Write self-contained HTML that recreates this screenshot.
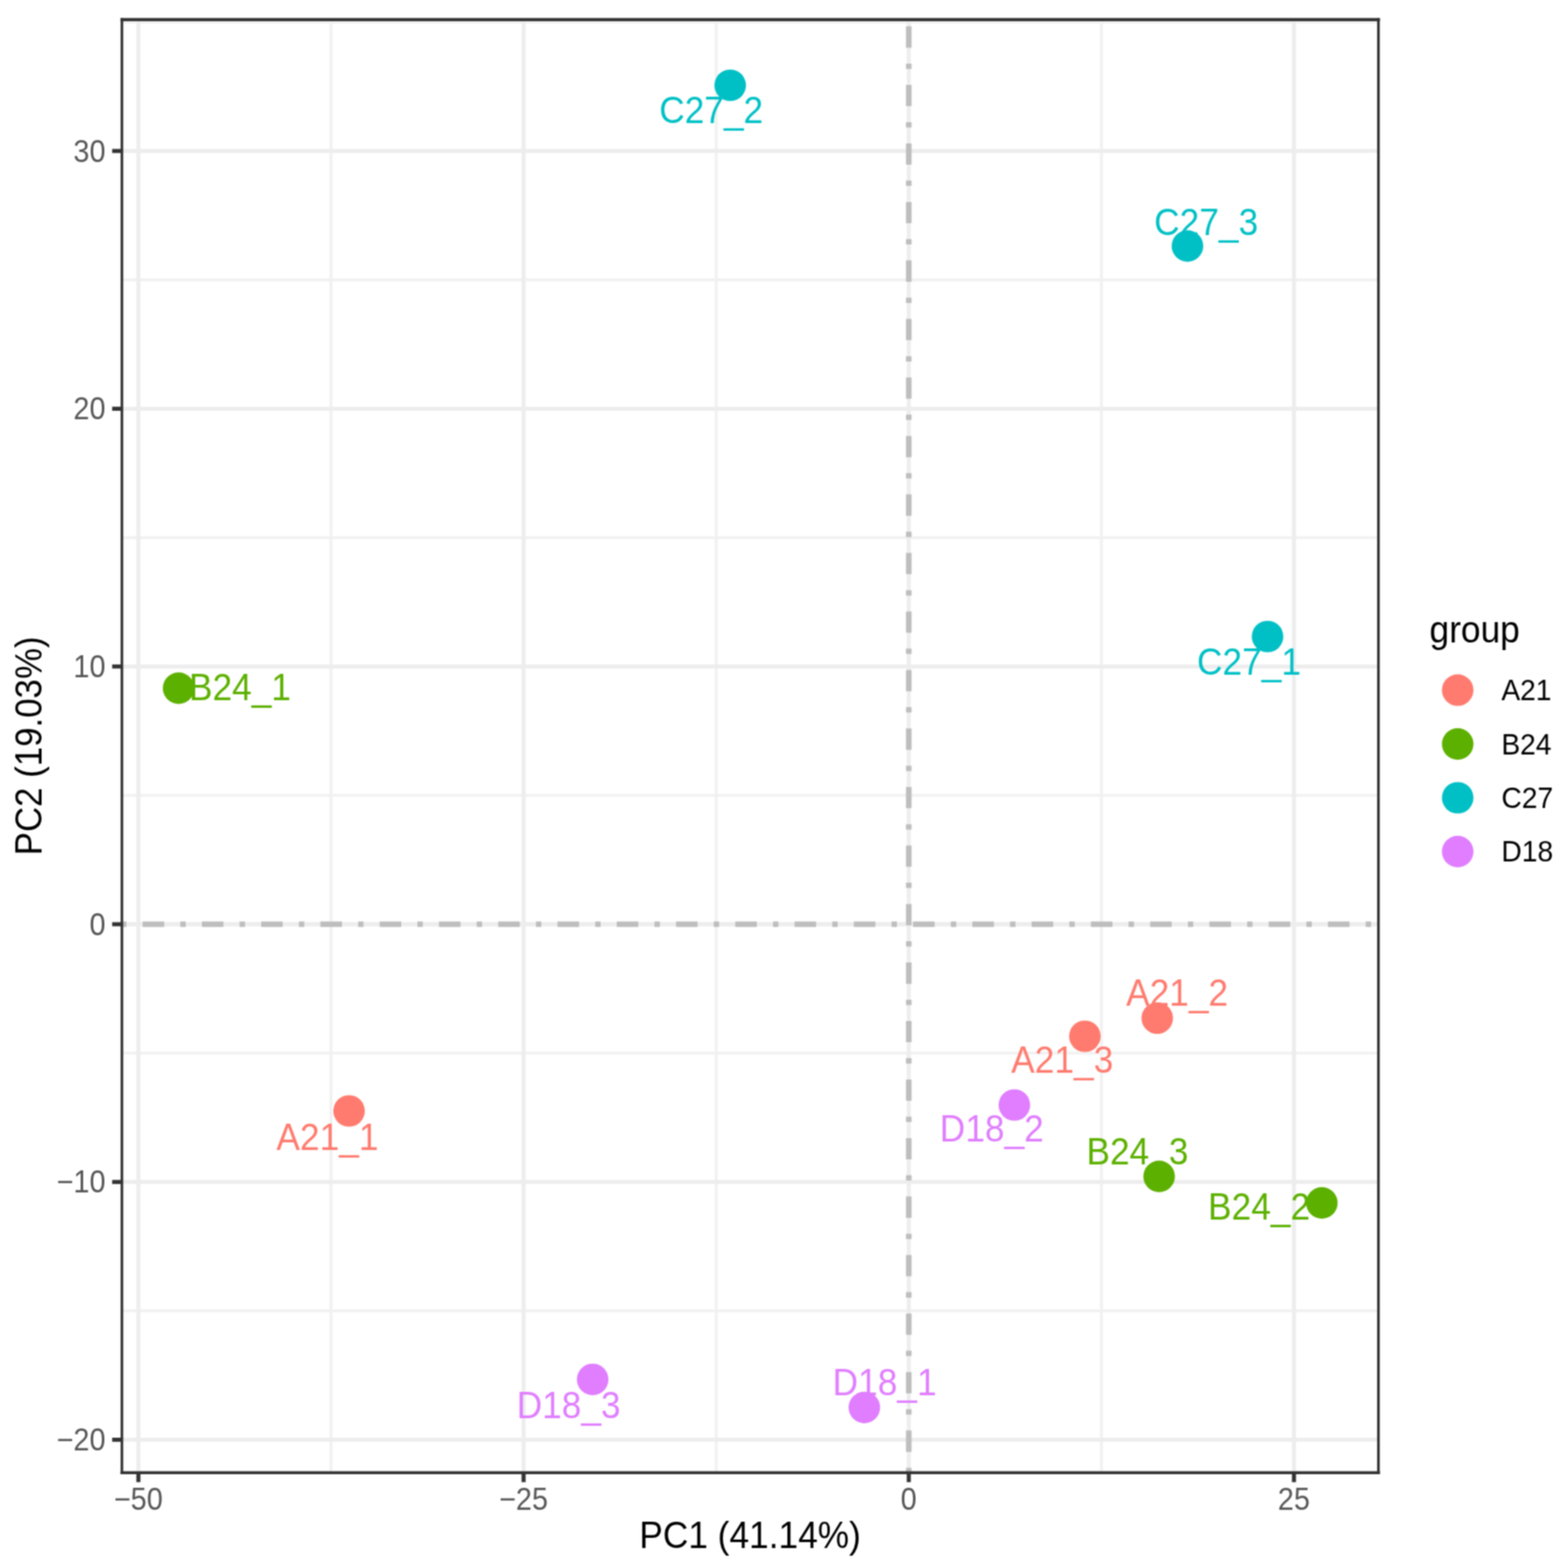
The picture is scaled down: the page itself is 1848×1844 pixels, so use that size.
<!DOCTYPE html>
<html lang="en"><head><meta charset="utf-8"><title>PCA plot</title>
<style>
html,body{margin:0;padding:0;background:#fff;}
body{width:1848px;height:1844px;overflow:hidden;}
svg{display:block;}
text{font-family:"Liberation Sans",sans-serif;}
.ax{font-size:34.0px;fill:#575757;}
.ti{font-size:41.6px;fill:#000;}
.lb{font-size:41.6px;}
.ty{font-size:41.05px;}
.lg{font-size:33.3px;fill:#000;}
</style></head><body>
<svg width="1848" height="1844" viewBox="0 0 1848 1844">
<defs><filter id="soft" x="0" y="0" width="1848" height="1844" filterUnits="userSpaceOnUse" color-interpolation-filters="sRGB"><feConvolveMatrix order="3" kernelMatrix="1 2 1 2 4 2 1 2 1" divisor="16" edgeMode="duplicate" preserveAlpha="true"/></filter></defs>
<title>PCA score plot</title>
<desc>Scatter plot of samples on PC1 (41.14%) and PC2 (19.03%), coloured by group: A21, B24, C27, D18. X axis ticks -50, -25, 0, 25. Y axis ticks -20, -10, 0, 10, 20, 30.</desc>
<rect x="0" y="0" width="1848" height="1844" fill="#ffffff"/>
<g filter="url(#soft)">
<rect x="0" y="0" width="1848" height="1844" fill="#ffffff"/>
<g stroke="#F1F1F1" fill="none">
<line x1="143.7" x2="1624.6" y1="26.05" y2="26.05" stroke-width="3.4"/>
<line x1="143.7" x2="1624.6" y1="329.75" y2="329.75" stroke-width="3.4"/>
<line x1="143.7" x2="1624.6" y1="633.45" y2="633.45" stroke-width="3.4"/>
<line x1="143.7" x2="1624.6" y1="937.15" y2="937.15" stroke-width="3.4"/>
<line x1="143.7" x2="1624.6" y1="1240.85" y2="1240.85" stroke-width="3.4"/>
<line x1="143.7" x2="1624.6" y1="1544.55" y2="1544.55" stroke-width="3.4"/>
<line y1="23.1" y2="1735.2" x1="390.09" x2="390.09" stroke-width="3.4"/>
<line y1="23.1" y2="1735.2" x1="844.06" x2="844.06" stroke-width="3.4"/>
<line y1="23.1" y2="1735.2" x1="1298.04" x2="1298.04" stroke-width="3.4"/>
</g>
<g stroke="#EDEDED" fill="none">
<line x1="143.7" x2="1624.6" y1="177.90" y2="177.90" stroke-width="4.8"/>
<line x1="143.7" x2="1624.6" y1="481.60" y2="481.60" stroke-width="4.8"/>
<line x1="143.7" x2="1624.6" y1="785.30" y2="785.30" stroke-width="4.8"/>
<line x1="143.7" x2="1624.6" y1="1089.00" y2="1089.00" stroke-width="4.8"/>
<line x1="143.7" x2="1624.6" y1="1392.70" y2="1392.70" stroke-width="4.8"/>
<line x1="143.7" x2="1624.6" y1="1696.40" y2="1696.40" stroke-width="4.8"/>
<line y1="23.1" y2="1735.2" x1="163.10" x2="163.10" stroke-width="4.8"/>
<line y1="23.1" y2="1735.2" x1="617.08" x2="617.08" stroke-width="4.8"/>
<line y1="23.1" y2="1735.2" x1="1071.05" x2="1071.05" stroke-width="4.8"/>
<line y1="23.1" y2="1735.2" x1="1525.02" x2="1525.02" stroke-width="4.8"/>
</g>
<line x1="142.7" x2="1624.6" y1="1089.00" y2="1089.00" stroke="#BEBEBE" stroke-width="6.6" stroke-dasharray="6.350 19.050 25.400 19.050"/>
<line x1="1071.05" x2="1071.05" y1="1735.7" y2="23.1" stroke="#BEBEBE" stroke-width="6.6" stroke-dasharray="6.267 18.801 25.068 18.801"/>
<text class="lb" transform="translate(838.20 145.00) scale(1 1.05)" text-anchor="middle" fill="#00C0C5">C27_2</text>
<text class="lb" transform="translate(1421.60 277.00) scale(1 1.05)" text-anchor="middle" fill="#00C0C5">C27_3</text>
<text class="lb" transform="translate(1472.10 794.80) scale(1 1.05)" text-anchor="middle" fill="#00C0C5">C27_1</text>
<text class="lb" transform="translate(282.80 824.90) scale(1 1.05)" text-anchor="middle" fill="#5CB000">B24_1</text>
<text class="lb" transform="translate(1387.30 1185.40) scale(1 1.05)" text-anchor="middle" fill="#FF7B6F">A21_2</text>
<text class="lb" transform="translate(1252.00 1264.30) scale(1 1.05)" text-anchor="middle" fill="#FF7B6F">A21_3</text>
<text class="lb" transform="translate(386.00 1355.20) scale(1 1.05)" text-anchor="middle" fill="#FF7B6F">A21_1</text>
<text class="lb" transform="translate(1168.90 1344.90) scale(1 1.05)" text-anchor="middle" fill="#E07EFF">D18_2</text>
<text class="lb" transform="translate(1340.60 1372.40) scale(1 1.05)" text-anchor="middle" fill="#5CB000">B24_3</text>
<text class="lb" transform="translate(1483.90 1437.00) scale(1 1.05)" text-anchor="middle" fill="#5CB000">B24_2</text>
<text class="lb" transform="translate(670.20 1671.40) scale(1 1.05)" text-anchor="middle" fill="#E07EFF">D18_3</text>
<text class="lb" transform="translate(1042.50 1643.70) scale(1 1.05)" text-anchor="middle" fill="#E07EFF">D18_1</text>
<circle cx="860.6" cy="100.5" r="18.6" fill="#00C0C5"/>
<circle cx="1399.5" cy="289.9" r="18.6" fill="#00C0C5"/>
<circle cx="1493.9" cy="750.0" r="18.6" fill="#00C0C5"/>
<circle cx="210.5" cy="810.9" r="18.6" fill="#5CB000"/>
<circle cx="1363.9" cy="1199.7" r="18.6" fill="#FF7B6F"/>
<circle cx="1278.6" cy="1221.0" r="18.6" fill="#FF7B6F"/>
<circle cx="411.4" cy="1309.0" r="18.6" fill="#FF7B6F"/>
<circle cx="1195.5" cy="1302.0" r="18.6" fill="#E07EFF"/>
<circle cx="1366.1" cy="1386.1" r="18.6" fill="#5CB000"/>
<circle cx="1557.9" cy="1417.4" r="18.6" fill="#5CB000"/>
<circle cx="698.5" cy="1625.3" r="18.6" fill="#E07EFF"/>
<circle cx="1018.7" cy="1658.4" r="18.6" fill="#E07EFF"/>
<g stroke="#333333" stroke-linecap="square">
<line x1="143.7" x2="1624.6" y1="23.1" y2="23.1" stroke-width="3.6"/>
<line x1="143.7" x2="1624.6" y1="1735.2" y2="1735.2" stroke-width="3.6"/>
<line x1="143.7" x2="143.7" y1="23.1" y2="1735.2" stroke-width="3.1"/>
<line x1="1624.6" x2="1624.6" y1="23.1" y2="1735.2" stroke-width="3.1"/>
</g>
<g stroke="#333333" stroke-width="4.8">
<line x1="132.2" x2="143.7" y1="177.90" y2="177.90"/>
<line x1="132.2" x2="143.7" y1="481.60" y2="481.60"/>
<line x1="132.2" x2="143.7" y1="785.30" y2="785.30"/>
<line x1="132.2" x2="143.7" y1="1089.00" y2="1089.00"/>
<line x1="132.2" x2="143.7" y1="1392.70" y2="1392.70"/>
<line x1="132.2" x2="143.7" y1="1696.40" y2="1696.40"/>
<line y1="1735.2" y2="1746.4" x1="163.10" x2="163.10"/>
<line y1="1735.2" y2="1746.4" x1="617.08" x2="617.08"/>
<line y1="1735.2" y2="1746.4" x1="1071.05" x2="1071.05"/>
<line y1="1735.2" y2="1746.4" x1="1525.02" x2="1525.02"/>
</g>
<text class="ax" transform="translate(124.30 190.60) scale(1 1.075)" text-anchor="end">30</text>
<text class="ax" transform="translate(124.30 494.30) scale(1 1.075)" text-anchor="end">20</text>
<text class="ax" transform="translate(124.30 798.00) scale(1 1.075)" text-anchor="end">10</text>
<text class="ax" transform="translate(124.30 1101.70) scale(1 1.075)" text-anchor="end">0</text>
<text class="ax" transform="translate(124.30 1405.40) scale(1 1.075)" text-anchor="end">−10</text>
<text class="ax" transform="translate(124.30 1709.10) scale(1 1.075)" text-anchor="end">−20</text>
<text class="ax" transform="translate(163.10 1778.60) scale(1 1.075)" text-anchor="middle">−50</text>
<text class="ax" transform="translate(617.08 1778.60) scale(1 1.075)" text-anchor="middle">−25</text>
<text class="ax" transform="translate(1071.05 1778.60) scale(1 1.075)" text-anchor="middle">0</text>
<text class="ax" transform="translate(1525.02 1778.60) scale(1 1.075)" text-anchor="middle">25</text>
<text class="ti" transform="translate(884.00 1824.20) scale(1 1.05)" text-anchor="middle">PC1 (41.14%)</text>
<text class="ti ty" transform="translate(49.40 878.80) rotate(-90) scale(1 1.065)" text-anchor="middle">PC2 (19.03%)</text>
<text class="ti" transform="translate(1684.80 757.30) scale(1 1.05)">group</text>
<circle cx="1718" cy="813.20" r="18.6" fill="#FF7B6F"/>
<text class="lg" transform="translate(1769.40 825.20) scale(1 1.06)">A21</text>
<circle cx="1718" cy="876.60" r="18.6" fill="#5CB000"/>
<text class="lg" transform="translate(1769.40 888.60) scale(1 1.06)">B24</text>
<circle cx="1718" cy="940.00" r="18.6" fill="#00C0C5"/>
<text class="lg" transform="translate(1769.40 952.00) scale(1 1.06)">C27</text>
<circle cx="1718" cy="1003.40" r="18.6" fill="#E07EFF"/>
<text class="lg" transform="translate(1769.40 1015.40) scale(1 1.06)">D18</text>
</g>
</svg>
</body></html>
